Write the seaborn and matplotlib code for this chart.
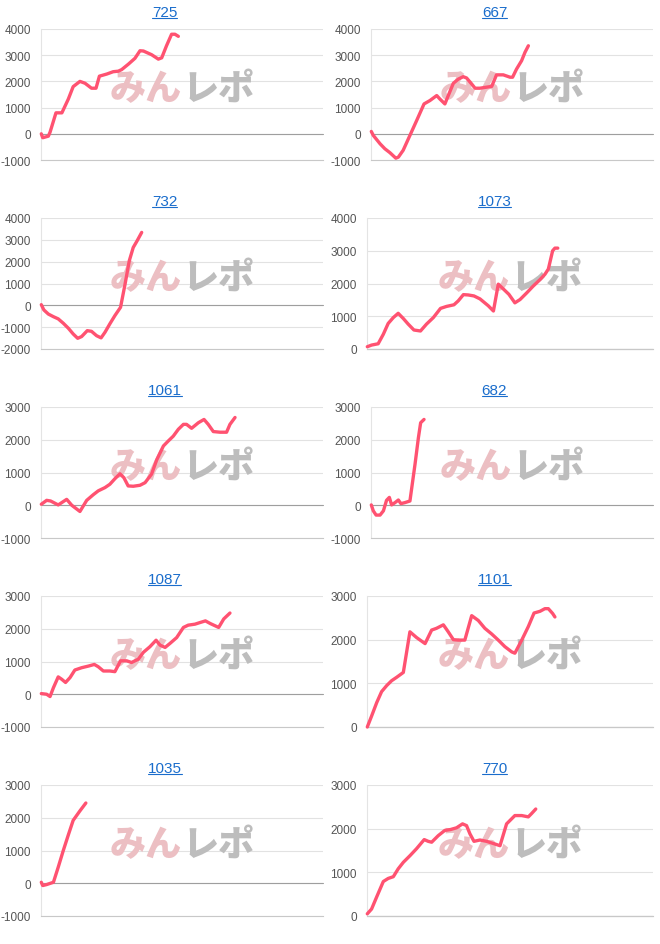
import matplotlib
matplotlib.use("Agg")
import matplotlib.pyplot as plt
import seaborn as sns
import pandas as pd
from matplotlib.lines import Line2D

# ---------------- data ----------------
titles = ["725", "667", "732", "1073", "1061", "682", "1087", "1101", "1035", "770"]

x_725 = [0, 0.5, 2.5, 3.1, 5.2, 7.3, 9.6, 11.3, 13.7, 15.5, 17.8, 19.4, 20.6, 23.2, 25.5, 27.3, 28.5,
         30.9, 33.2, 35.0, 36.2, 39.1, 41.5, 42.7, 44.4, 46.2, 47.4, 48.6]
y_725 = [0, -150, -90, 60, 800, 800, 1330, 1800, 2000, 1930, 1740, 1740, 2200, 2280, 2370, 2390, 2450,
         2660, 2880, 3170, 3160, 3020, 2850, 2900, 3360, 3800, 3800, 3720]

x_667 = [0, 0.7, 3.1, 4.8, 6.6, 8.7, 9.6, 11.3, 13.7, 16.1, 18.7, 20.8, 23.2, 24.3, 26.1, 27.3, 29.1,
         30.9, 32.6, 33.8, 35.6, 36.8, 38.5, 40.9, 42.7, 44.4, 46.8, 49.2, 50.1, 51.5, 53.3, 54.5, 55.7]
y_667 = [90, -60, -380, -570, -720, -930, -890, -630, -60, 510, 1140, 1270, 1460, 1330, 1140, 1460, 1930,
         2090, 2180, 2130, 1900, 1740, 1740, 1780, 1810, 2250, 2250, 2160, 2160, 2470, 2790, 3110, 3360]

x_732 = [0, 0.9, 2.5, 4.3, 6.0, 7.8, 9.6, 11.3, 12.9, 14.3, 16.3, 17.8, 19.6, 21.2, 22.6, 24.3, 26.1,
         28.1, 29.7, 31.2, 32.6, 34.0, 35.6]
y_732 = [30, -210, -400, -520, -620, -820, -1050, -1310, -1510, -1430, -1160, -1190, -1390, -1490, -1230,
         -850, -470, -90, 970, 2040, 2650, 2960, 3340]

x_1073 = [0, 1.5, 3.8, 5.6, 7.3, 9.1, 10.8, 12.6, 14.3, 16.3, 18.6, 20.7, 23.1, 25.6, 27.7, 30.3, 31.8,
          33.6, 35.3, 37.3, 39.4, 42.3, 44.1, 45.8, 47.6, 49.5, 51.6, 53.4, 55.7, 58.0, 60.4, 62.1, 63.3,
          64.8, 65.6, 66.6]
y_1073 = [70, 120, 160, 450, 780, 960, 1090, 930, 760, 580, 550, 760, 960, 1240, 1300, 1350, 1470,
          1660, 1650, 1620, 1530, 1320, 1160, 1980, 1830, 1670, 1410, 1510, 1710, 1920, 2120, 2280, 2440,
          3000, 3080, 3080]

x_1061 = [0, 1.9, 3.3, 6.0, 9.0, 10.8, 13.7, 16.1, 18.4, 20.2, 22.6, 24.3, 26.1, 27.9, 29.3, 30.8, 32.6,
          35.0, 36.8, 39.1, 40.9, 43.3, 45.0, 46.8, 48.6, 50.4, 51.5, 53.3, 55.7, 57.7, 59.2, 61.0, 63.4,
          65.7, 66.9, 68.7]
y_1061 = [30, 150, 130, 10, 180, 0, -190, 150, 320, 440, 540, 640, 810, 960, 840, 590, 580,
          610, 690, 950, 1380, 1810, 1960, 2110, 2320, 2470, 2470, 2350, 2520, 2620, 2470, 2250, 2230,
          2230, 2470, 2680]

x_682 = [0, 0.7, 1.7, 3.1, 4.3, 5.4, 6.4, 7.2, 8.4, 9.6, 10.5, 11.9, 13.7, 15.5, 16.7, 17.5, 18.7]
y_682 = [10, -170, -300, -300, -170, 150, 240, 10, 80, 160, 50, 80, 130, 1250, 2060, 2520, 2620]

x_1087 = [0, 1.9, 3.1, 4.3, 6.0, 7.2, 8.6, 10.2, 11.9, 14.3, 16.7, 18.8, 20.2, 22.0, 24.3, 26.1, 28.1,
          30.3, 32.0, 34.4, 36.2, 38.5, 40.7, 42.1, 43.9, 45.6, 48.0, 50.4, 52.1, 54.5, 56.3, 58.2, 59.9,
          62.9, 64.7, 66.9]
y_1087 = [20, 0, -70, 200, 530, 460, 360, 510, 740, 810, 860, 910, 840, 710, 710, 690, 1020,
          1020, 970, 1070, 1280, 1450, 1650, 1500, 1430, 1550, 1730, 2040, 2110, 2140, 2190, 2240, 2160,
          2040, 2300, 2480]

x_1101 = [0, 1.5, 3.3, 5.0, 6.8, 8.5, 10.3, 12.6, 14.9, 17.2, 20.2, 22.5, 24.2, 26.6, 28.3, 30.1, 31.8,
          34.1, 36.5, 38.8, 41.1, 43.5, 45.8, 48.1, 50.5, 51.6, 54.0, 56.3, 58.3, 60.4, 62.1, 63.3, 64.8, 65.6]
y_1101 = [0, 250, 560, 810, 950, 1060, 1140, 1250, 2180, 2050, 1910, 2220, 2260, 2340, 2180, 2000, 1990,
          1990, 2550, 2440, 2260, 2130, 1990, 1840, 1720, 1690, 1990, 2300, 2610, 2650, 2710, 2710, 2600, 2520]

x_1035 = [0, 0.5, 1.9, 4.3, 6.0, 7.8, 9.6, 11.3, 13.7, 15.8]
y_1035 = [30, -70, -40, 30, 490, 1000, 1480, 1920, 2210, 2450]

x_770 = [0, 1.5, 3.3, 5.6, 7.3, 9.1, 10.8, 12.6, 14.9, 17.2, 19.9, 21.3, 22.5, 24.8, 27.1, 29.1, 31.2,
         33.3, 34.7, 35.9, 37.3, 39.4, 41.7, 44.1, 46.4, 48.7, 51.6, 54.0, 56.3, 57.5, 58.9]
y_770 = [50, 160, 440, 790, 860, 900, 1080, 1230, 1380, 1540, 1750, 1710, 1690, 1840, 1960, 1980, 2020,
         2110, 2070, 1880, 1710, 1740, 1710, 1660, 1610, 2110, 2300, 2300, 2270, 2350, 2450]

series_x = [x_725, x_667, x_732, x_1073, x_1061, x_682, x_1087, x_1101, x_1035, x_770]
series_y = [y_725, y_667, y_732, y_1073, y_1061, y_682, y_1087, y_1101, y_1035, y_770]
y_min = [-1000, -1000, -2000, 0, -1000, -1000, -1000, 0, -1000, 0]
y_max = [4000, 4000, 4000, 4000, 3000, 3000, 3000, 3000, 3000, 3000]

# ---------------- style ----------------
sns.set_theme(style="white")
plt.rcParams["font.family"] = ["Liberation Sans", "Noto Sans CJK JP", "DejaVu Sans"]

LINE = "#ff5271"
BLUE = "#1a6dcc"
TICK = "#555555"
W, H = 660, 945

fig = plt.figure(figsize=(W / 100, H / 100), dpi=100)
fig.patch.set_facecolor("white")

title_texts = []
for i, title in enumerate(titles):
    r, c = divmod(i, 2)
    ymin, ymax = y_min[i], y_max[i]
    left = (41.3 if ymin < 0 else 37.3) + 330 * c
    right = 323.3 + 330 * c
    top = 30 + 189 * r
    bottom = 161 + 189 * r
    ax = fig.add_axes([left / W, 1 - bottom / H, (right - left) / W, (bottom - top) / H])
    ax.set_facecolor("white")

    df = pd.DataFrame({"x": series_x[i], "y": series_y[i]})
    sns.lineplot(data=df, x="x", y="y", ax=ax, color=LINE, linewidth=2.4,
                 sort=False, estimator=None, zorder=5, clip_on=False,
                 solid_capstyle="round", solid_joinstyle="round")

    ax.set_xlim(0, 100)
    ax.set_ylim(ymin, ymax)
    ticks = list(range(ymin, ymax + 1, 1000))
    ax.set_yticks(ticks)
    ax.set_yticklabels([str(t) for t in ticks])
    ax.set_xticks([])
    ax.set_xlabel("")
    ax.set_ylabel("")
    ax.tick_params(axis="y", length=0, pad=7.5, labelsize=8.5, labelcolor=TICK)
    ax.grid(axis="y", color="#e2e2e2", linewidth=0.8)
    ax.grid(axis="x", visible=False)
    for s in ["top", "right"]:
        ax.spines[s].set_visible(False)
    ax.spines["left"].set_color("#e4e4e4")
    ax.spines["left"].set_linewidth(0.8)
    ax.spines["bottom"].set_color("#c8c8c8")
    ax.spines["bottom"].set_linewidth(0.8)
    ax.axhline(0, color="#9e9e9e", linewidth=0.8, zorder=2, clip_on=False)

    # watermark logo
    wy = 1 - 59 / 131
    ax.text(0.5, wy, "みん", transform=ax.transAxes, ha="right", va="center",
            fontsize=26, fontweight="heavy", color="#ecbfc3", zorder=1,
            family=["Noto Sans CJK JP", "DejaVu Sans"])
    ax.text(0.5, wy, "レポ", transform=ax.transAxes, ha="left", va="center",
            fontsize=26, fontweight="heavy", color="#bdbdbd", zorder=1,
            family=["Noto Sans CJK JP", "DejaVu Sans"])

    tx = 164.5 + 330 * c
    tb = 17.3 + 189 * r
    t = fig.text(tx / W, 1 - tb / H, title, ha="center", va="baseline",
                 fontsize=11, color=BLUE)
    title_texts.append((t, tb))

fig.canvas.draw()
renderer = fig.canvas.get_renderer()
for t, tb in title_texts:
    bb = t.get_window_extent(renderer)
    yl = 1 - (tb + 1.3) / H
    fig.add_artist(Line2D([bb.x0 / W, bb.x1 / W], [yl, yl], transform=fig.transFigure,
                          color=BLUE, linewidth=0.8))

fig.savefig("out.png", dpi=100, facecolor="white")
